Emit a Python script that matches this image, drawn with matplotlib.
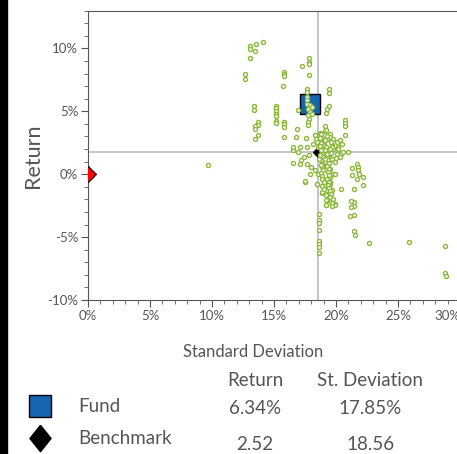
import matplotlib.pyplot as plt
from matplotlib.lines import Line2D
from matplotlib.patches import Rectangle
from matplotlib.ticker import MultipleLocator, FuncFormatter

plt.rcParams['font.family'] = ['Lato', 'DejaVu Sans']

# peer funds (standard deviation %, return %)
peer_sd = [14.14, 13.55, 13.06, 13.06, 13.47, 13.06, 12.63, 12.63,
           17.82, 17.82, 17.82, 17.26, 17.82, 15.80, 15.80, 15.80, 15.75,
           17.63, 17.63, 17.63, 17.63, 17.70, 17.90, 17.75, 17.90, 17.76, 17.80, 17.76, 17.76,
           18.03, 18.03, 16.91, 19.41, 19.41, 19.25, 19.41, 19.16,
           13.39, 13.39, 13.68, 13.68, 13.47, 13.47, 13.68, 13.47,
           15.13, 15.13, 15.13, 15.13, 15.13, 15.13, 15.13, 15.83, 15.83, 15.83, 15.83, 16.83,
           20.72, 20.72, 20.72, 20.72,
           19.14, 19.14, 19.51, 19.51, 19.29, 18.71, 18.30, 18.38, 18.49, 18.17, 18.57, 18.84,
           19.03, 19.78, 20.05, 20.32, 20.45, 20.18, 19.78, 19.51, 20.05, 20.40, 19.24, 19.65,
           19.11, 19.38, 19.51, 19.78, 19.92, 19.51, 19.38, 19.51, 19.38, 19.57, 19.24, 19.51,
           19.38, 19.16, 19.92, 18.84, 18.44, 18.57, 18.30, 17.90, 17.98, 17.50, 17.63, 17.09,
           17.15, 16.50, 16.56, 16.56, 16.97, 17.09, 16.81, 17.56, 17.70, 17.83, 17.42,
           21.00, 21.27, 21.32, 21.72, 21.72, 21.81, 21.81, 21.87, 22.14, 22.14, 21.49, 21.49,
           21.46, 21.49, 21.49, 21.51, 22.69, 25.91, 28.79, 28.79, 28.85,
           18.60, 18.60, 18.60, 18.60, 18.65, 18.65, 18.65, 18.60,
           9.70, 17.50, 18.44, 18.85, 19.19, 19.52, 19.19, 19.19, 19.92, 20.38, 21.18, 21.18,
           21.13, 19.52, 19.38, 19.65,
           18.80, 18.85, 18.90, 18.95, 18.80, 18.90, 18.85, 18.95, 18.80, 18.90, 18.85, 18.95,
           18.80, 18.90, 18.85, 19.00, 18.90, 19.05, 19.30, 19.35, 19.40, 19.30, 19.45, 19.35,
           19.40, 19.30, 19.45, 19.35, 19.40, 19.55, 19.60, 19.55, 19.60, 19.70, 19.75, 19.65,
           19.20, 19.25, 19.10, 19.20, 19.15, 19.25, 19.10, 19.70, 20.20, 20.60, 20.30, 19.90,
           18.70, 18.75, 18.70, 18.75, 18.70, 18.65, 18.75, 19.60, 19.70, 19.50, 19.60, 20.00]
peer_ret = [10.53, 10.32, 10.21, 9.95, 9.79, 9.26, 7.94, 7.57,
            9.26, 8.89, 8.73, 8.57, 7.88, 8.09, 7.94, 7.78, 6.98,
            6.80, 6.53, 6.14, 5.87, 5.61, 5.48, 5.21, 4.95, 4.68, 4.42, 4.15, 3.89,
            5.34, 4.81, 5.13, 6.77, 6.45, 5.21, 5.40, 4.87,
            5.40, 5.13, 4.18, 3.91, 3.81, 3.60, 3.12, 2.80,
            5.45, 5.24, 5.03, 4.81, 4.60, 4.23, 4.07, 4.18, 3.97, 3.76, 2.96, 3.60,
            4.28, 4.07, 3.86, 3.09,
            3.81, 3.44, 3.23, 2.96, 2.83, 3.28, 3.09, 2.83, 2.56, 2.43, 2.17, 2.03,
            2.43, 2.83, 2.56, 2.75, 2.43, 2.17, 2.03, 1.64, 1.58, 1.58, 1.37, 1.24,
            0.98, 0.71, 0.45, 0.05, 0.05, -0.21, -0.48, -0.74, -1.01, -1.40, -1.54, -1.80,
            -2.07, -2.46, -2.38, -1.48, -0.74, 0.05, 0.31, 0.05, 0.58, -0.61, 0.84, 0.84,
            1.11, 0.92, 1.90, 2.17, 1.77, 2.17, 2.96, 2.91, 2.17, 1.51, 1.37,
            1.77, 0.53, -0.08, -0.34, 0.84, 0.58, 0.31, 0.05, -0.21, -0.82, -1.17, -2.20,
            -2.54, -3.28, -4.50, -4.82, -5.45, -5.37, -5.72, -7.89, -8.10,
            -3.18, -3.65, -3.86, -4.45, -5.29, -5.56, -5.77, -6.25,
            0.74, -0.56, -0.74, -1.45, -1.67, -1.80, -2.06, -2.46, -2.41, -1.14, -2.14, -2.59,
            -3.31, -0.61, -1.01, -1.27,
            3.20, 2.90, 2.60, 2.35, 2.10, 1.85, 1.60, 1.35, 1.10, 0.85, 0.60, 0.35,
            0.10, -0.15, -0.40, -0.65, -0.90, -1.15, 1.40, 1.15, 0.90, 0.65, 0.40, 0.15,
            -0.10, -0.35, -0.60, -0.85, -1.10, -1.35, -1.60, -1.85, -2.10, -2.30, -1.95, -2.55,
            3.50, 3.00, 2.70, 2.20, 1.90, 1.60, 1.20, 2.30, 2.00, 1.75, 1.40, 0.95,
            2.90, 2.50, 2.25, 1.95, 1.50, 1.20, 0.70, 2.60, 2.20, 2.00, 1.70, 1.30]

fund_sd, fund_ret = 17.93, 5.58
bench_sd, bench_ret = 18.56, 1.74
rf_sd, rf_ret = 0.0, 0.0

x_ticks = [0, 5, 10, 15, 20, 25, 30]
y_ticks = [-10, -5, 0, 5, 10]

table_cols = ['Return', 'St. Deviation']
table_rows = ['Fund', 'Benchmark']
table_vals = [['6.34%', '17.85%'], ['2.52', '18.56']]

green = '#8cb83c'
blue = '#1565b0'
grey = '#555555'

fig = plt.figure(figsize=(4.57, 4.54), dpi=100)
ax = fig.add_axes([0.1926, 0.3392, 0.814, 0.6372])

ax.axvline(bench_sd, color='#c0c0c0', lw=1.3, zorder=1)
ax.axhline(bench_ret, color='#c0c0c0', lw=1.3, zorder=1)

ax.plot(fund_sd, fund_ret, marker='s', ms=15, mfc=blue, mec='black', mew=1, ls='none', zorder=2)
ax.plot(bench_sd, bench_ret, marker='D', ms=5, mfc='black', mec='black', ls='none', zorder=2)
ax.plot(peer_sd, peer_ret, marker='o', ms=2.9, mfc='white', mec=green, mew=1, ls='none', zorder=3)
ax.plot(rf_sd, rf_ret, marker='D', ms=8, mfc='red', mec='black', mew=0.8, ls='none', zorder=4)

ax.set_xlim(0, 30)
ax.set_ylim(-10, 13)
ax.set_xticks(x_ticks, [f'{v}%' for v in x_ticks])
ax.set_yticks(y_ticks, [f'{v}%' for v in y_ticks])
ax.xaxis.set_minor_locator(MultipleLocator(1))
ax.yaxis.set_minor_locator(MultipleLocator(1))
ax.get_xticklabels()[-1].set_horizontalalignment('right')
ax.tick_params(which='major', length=5, color=grey, labelcolor=grey, labelsize=9.5, pad=2)
ax.tick_params(which='minor', length=3, color=grey)
for s in ax.spines.values():
    s.set_color(grey)
ax.spines['right'].set_visible(False)

ax.set_ylabel('Return', fontsize=15.5, color=grey, labelpad=3)
fig.text(0.5536, (454 - 352) / 454, 'Standard Deviation', ha='center', va='center',
         fontsize=12, color=grey)

# left bar
fig.add_artist(Rectangle((0, 0), 7 / 457, 1, transform=fig.transFigure, color='black'))

# summary table
col_x = [255 / 457, 370 / 457]
for cx, name in zip(col_x, table_cols):
    fig.text(cx, (454 - 381) / 454, name, ha='center', va='center', fontsize=13.5, color=grey)
label_y = [(454 - 406) / 454, (454 - 438) / 454]
value_y = [(454 - 409) / 454, (454 - 444) / 454]
diamond = [(0, 1), (0.8, 0), (0, -1), (-0.8, 0), (0, 1)]
markers = [('s', blue, 15.5), (diamond, 'black', 19)]
for ly, vy, name, vals, (mk, col, ms) in zip(label_y, value_y, table_rows, table_vals, markers):
    fig.add_artist(Line2D([40 / 457], [ly], marker=mk, ms=ms, mfc=col, mec='black', mew=1,
                          ls='none', transform=fig.transFigure))
    fig.text(78 / 457, ly, name, ha='left', va='center', fontsize=13.5, color=grey)
    for cx, v in zip(col_x, vals):
        fig.text(cx, vy, v, ha='center', va='center', fontsize=13.5, color=grey)

fig.savefig('out.png', dpi=100)
